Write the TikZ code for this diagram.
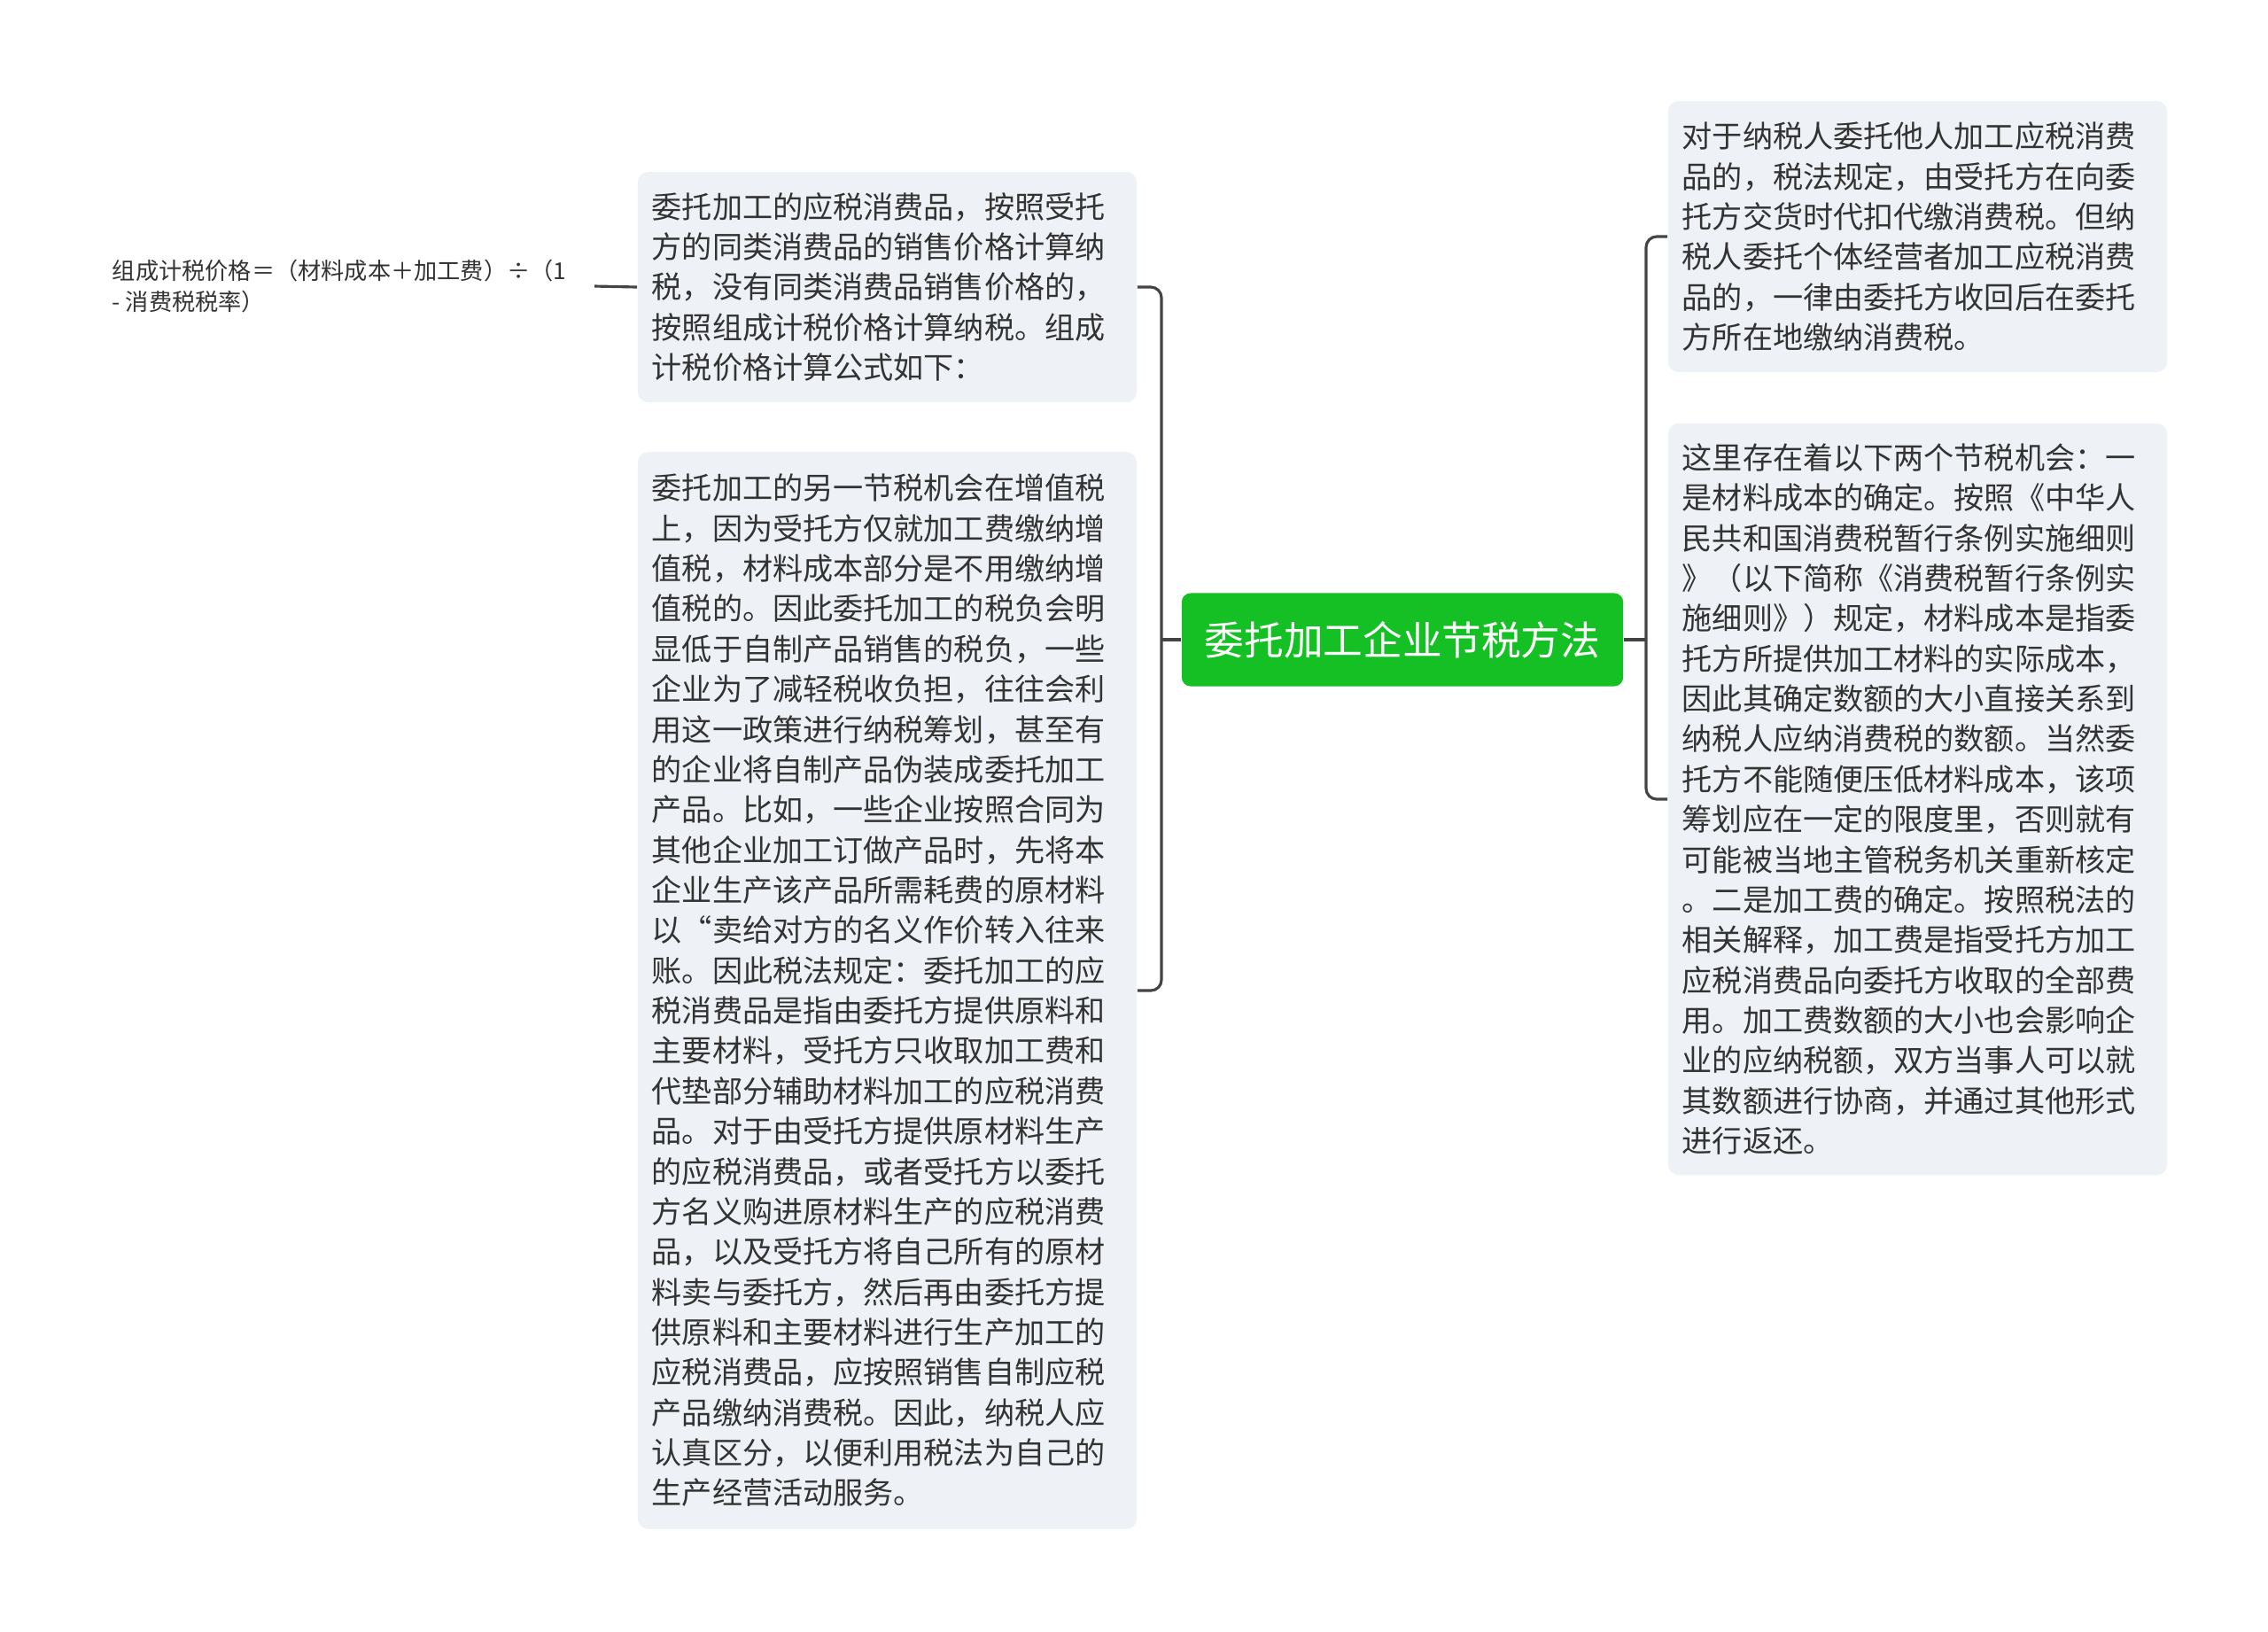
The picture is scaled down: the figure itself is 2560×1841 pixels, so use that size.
\documentclass[tikz,border=0pt]{standalone}
\usepackage{fontspec}
\setmainfont{Noto Sans CJK SC}
\usepackage{tikz}

\definecolor{topicgreen}{RGB}{21,192,36}
\definecolor{boxgray}{RGB}{238,241,245}
\definecolor{inkgray}{RGB}{51,51,51}
\definecolor{linegray}{RGB}{68,68,68}

\begin{document}
\begin{tikzpicture}
  [x=0.01cm,y=-0.01cm,
   topic/.style={rectangle,rounded corners=0.1cm,fill=topicgreen,text=white,
     minimum width=4.98cm,minimum height=1.05cm,font=\fontsize{12.7}{15}\selectfont},
   leaf/.style={rectangle,rounded corners=0.12cm,fill=boxgray,text=inkgray,
     text width=5.31cm,inner xsep=0.16cm,inner ysep=0.1cm,align=left,
     font=\fontsize{9.7}{12.9}\selectfont},
   conn/.style={draw=linegray,line width=0.9pt}]

  \useasboundingbox (0,0) rectangle (2560,1841);

  \node[topic] (n1) at (1583,722) {委托加工企业节税方法};

  \node[leaf,minimum height=2.60cm] (n2) at (1001.5,324) {委托加工的应税消费品，按照受托\\方的同类消费品的销售价格计算纳\\税，没有同类消费品销售价格的，\\按照组成计税价格计算纳税。组成\\计税价格计算公式如下：};
  \node[leaf,minimum height=12.15cm] (n3) at (1001.5,1118) {委托加工的另一节税机会在增值税\\上，因为受托方仅就加工费缴纳增\\值税，材料成本部分是不用缴纳增\\值税的。因此委托加工的税负会明\\显低于自制产品销售的税负，一些\\企业为了减轻税收负担，往往会利\\用这一政策进行纳税筹划，甚至有\\的企业将自制产品伪装成委托加工\\产品。比如，一些企业按照合同为\\其他企业加工订做产品时，先将本\\企业生产该产品所需耗费的原材料\\以“卖给对方的名义作价转入往来\\账。因此税法规定：委托加工的应\\税消费品是指由委托方提供原料和\\主要材料，受托方只收取加工费和\\代垫部分辅助材料加工的应税消费\\品。对于由受托方提供原材料生产\\的应税消费品，或者受托方以委托\\方名义购进原材料生产的应税消费\\品，以及受托方将自己所有的原材\\料卖与委托方，然后再由委托方提\\供原料和主要材料进行生产加工的\\应税消费品，应按照销售自制应税\\产品缴纳消费税。因此，纳税人应\\认真区分，以便利用税法为自己的\\生产经营活动服务。};
  \node[anchor=east,inner xsep=0.31cm,inner ysep=0pt,align=left,text=inkgray,
    font=\fontsize{7.45}{10.2}\selectfont] (n4) at (671,323) {组成计税价格＝（材料成本＋加工费）÷（1\\ - 消费税税率）};

  \node[leaf,minimum height=3.06cm] (n5) at (2164.5,267) {对于纳税人委托他人加工应税消费\\品的，税法规定，由受托方在向委\\托方交货时代扣代缴消费税。但纳\\税人委托个体经营者加工应税消费\\品的，一律由委托方收回后在委托\\方所在地缴纳消费税。};
  \node[leaf,minimum height=8.48cm] (n6) at (2164.5,902) {这里存在着以下两个节税机会：一\\是材料成本的确定。按照《中华人\\民共和国消费税暂行条例实施细则\\》（以下简称《消费税暂行条例实\\施细则》）规定，材料成本是指委\\托方所提供加工材料的实际成本，\\因此其确定数额的大小直接关系到\\纳税人应纳消费税的数额。当然委\\托方不能随便压低材料成本，该项\\筹划应在一定的限度里，否则就有\\可能被当地主管税务机关重新核定\\。二是加工费的确定。按照税法的\\相关解释，加工费是指受托方加工\\应税消费品向委托方收取的全部费\\用。加工费数额的大小也会影响企\\业的应纳税额，双方当事人可以就\\其数额进行协商，并通过其他形式\\进行返还。};

  \coordinate (j1) at (1311,722);
  \coordinate (j2) at (1858,722);

  \draw[conn] (n1.west) -- (j1);
  \draw[conn] (n1.east) -- (j2);
  \foreach \to in {n2,n3}
    \draw[conn,rounded corners=0.12cm] (j1) |- (\to.east);
  \foreach \to in {n5,n6}
    \draw[conn,rounded corners=0.12cm] (j2) |- (\to.west);
  \draw[conn] (n2.west) -- (n4.east);
\end{tikzpicture}
\end{document}
